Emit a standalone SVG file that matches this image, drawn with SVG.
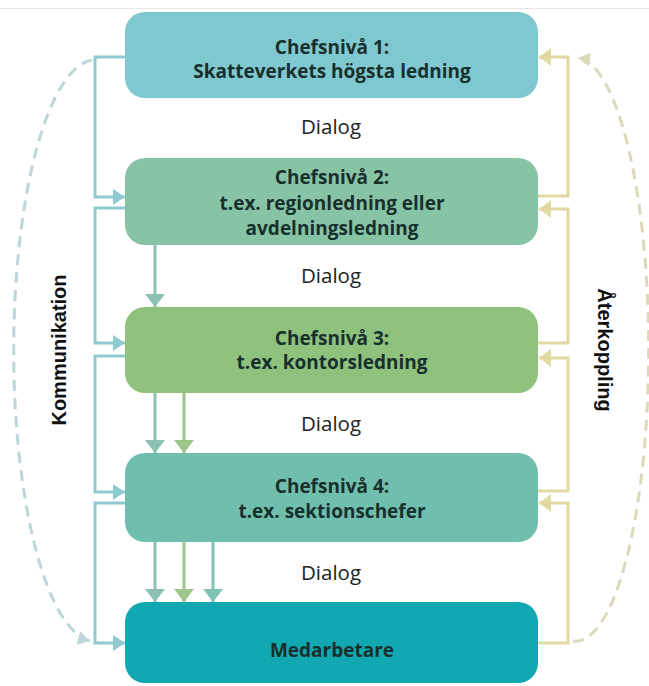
<svg xmlns="http://www.w3.org/2000/svg" width="649" height="686" viewBox="0 0 649 686">
  <style>
    .box-text { font-family: "Open Sans", "Liberation Sans", sans-serif; font-weight: bold; font-size: 19px; fill: #18302d; text-anchor: middle; }
    .dialog { font-family: "Open Sans", "Liberation Sans", sans-serif; font-size: 20.5px; fill: #222; text-anchor: middle; }
    .side { font-family: "Liberation Sans", Arial, sans-serif; font-weight: bold; font-size: 20px; fill: #111; text-anchor: middle; }
    .blue { fill: none; stroke: #8fcad3; stroke-width: 3; }
    .yellow { fill: none; stroke: #e2d9a2; stroke-width: 3; }
    .dashL { fill: none; stroke: #bcd6d9; stroke-width: 3; stroke-dasharray: 11 7; }
    .dashR { fill: none; stroke: #dcd9bb; stroke-width: 3; stroke-dasharray: 11 7; }
    .down { fill: none; stroke-width: 3; }
  </style>
  <defs>
    <marker id="aBlue" viewBox="0 0 12 16" refX="12" refY="8" markerWidth="12" markerHeight="16" markerUnits="userSpaceOnUse" orient="auto">
      <path d="M0,0 L12,8 L0,16 z" fill="#8fcad3"/>
    </marker>
    <marker id="aYellow" viewBox="0 0 12 18" refX="12" refY="9" markerWidth="12" markerHeight="18" markerUnits="userSpaceOnUse" orient="auto">
      <path d="M0,0 L12,9 L0,18 z" fill="#e2d9a2"/>
    </marker>
    <marker id="aD1" viewBox="0 0 13 20" refX="13" refY="10" markerWidth="13" markerHeight="20" markerUnits="userSpaceOnUse" orient="auto">
      <path d="M0,0 L13,10 L0,20 z" fill="#8cc0b3"/>
    </marker>
    <marker id="aD2" viewBox="0 0 13 20" refX="13" refY="10" markerWidth="13" markerHeight="20" markerUnits="userSpaceOnUse" orient="auto">
      <path d="M0,0 L13,10 L0,20 z" fill="#9cc58a"/>
    </marker>
    <marker id="aD3" viewBox="0 0 13 20" refX="13" refY="10" markerWidth="13" markerHeight="20" markerUnits="userSpaceOnUse" orient="auto">
      <path d="M0,0 L13,10 L0,20 z" fill="#80c2b6"/>
    </marker>
    <marker id="aDashL" viewBox="0 0 12 14" refX="12" refY="7" markerWidth="12" markerHeight="14" markerUnits="userSpaceOnUse" orient="auto">
      <path d="M0,0 L12,7 L0,14 z" fill="#bcd6d9"/>
    </marker>
    <marker id="aDashR" viewBox="0 0 12 14" refX="12" refY="7" markerWidth="12" markerHeight="14" markerUnits="userSpaceOnUse" orient="auto">
      <path d="M0,0 L12,7 L0,14 z" fill="#dcd9bb"/>
    </marker>
  </defs>

  <rect x="0" y="0" width="649" height="686" fill="#ffffff"/>
  <line x1="0" y1="8.5" x2="649" y2="8.5" stroke="#e6e6e6" stroke-width="1"/>

  <g id="connectors">
    <path class="blue" d="M125,57 H95 V197 H125" marker-end="url(#aBlue)"/>
    <path class="blue" d="M125,208 H95 V343 H125" marker-end="url(#aBlue)"/>
    <path class="blue" d="M125,356 H95 V492 H125" marker-end="url(#aBlue)"/>
    <path class="blue" d="M125,503 H95 V643 H125" marker-end="url(#aBlue)"/>
    <path class="yellow" d="M538,196 H568 V57 H539" marker-end="url(#aYellow)"/>
    <path class="yellow" d="M538,343 H568 V209 H539" marker-end="url(#aYellow)"/>
    <path class="yellow" d="M538,491 H568 V358 H539" marker-end="url(#aYellow)"/>
    <path class="yellow" d="M538,643 H568 V503 H539" marker-end="url(#aYellow)"/>
    <path class="dashL" d="M92,60 A82,291 0 0 0 90,641" marker-end="url(#aDashL)"/>
    <path class="dashR" d="M573,641 A73,291 0 0 0 578,58" marker-end="url(#aDashR)"/>
    <path class="down" d="M155,245 V307" stroke="#8cc0b3" marker-end="url(#aD1)"/>
    <path class="down" d="M155,393 V453" stroke="#8cc0b3" marker-end="url(#aD1)"/>
    <path class="down" d="M184,393 V453" stroke="#9cc58a" marker-end="url(#aD2)"/>
    <path class="down" d="M155,542 V602" stroke="#8cc0b3" marker-end="url(#aD1)"/>
    <path class="down" d="M184,542 V602" stroke="#9cc58a" marker-end="url(#aD2)"/>
    <path class="down" d="M213,542 V602" stroke="#80c2b6" marker-end="url(#aD3)"/>
  </g>

  <g id="level1">
    <rect x="125" y="12" width="413" height="86" rx="20" fill="#7fc8cf"/>
    <text class="box-text" x="332" y="54">Chefsnivå 1:</text>
    <text class="box-text" x="332" y="78">Skatteverkets högsta ledning</text>
  </g>
  <g id="level2">
    <rect x="125" y="158" width="413" height="87" rx="20" fill="#87c4a6"/>
    <text class="box-text" x="332" y="184">Chefsnivå 2:</text>
    <text class="box-text" x="332" y="210">t.ex. regionledning eller</text>
    <text class="box-text" x="332" y="235">avdelningsledning</text>
  </g>
  <g id="level3">
    <rect x="125" y="307" width="413" height="86" rx="20" fill="#8ec27d"/>
    <text class="box-text" x="332" y="345">Chefsnivå 3:</text>
    <text class="box-text" x="332" y="369">t.ex. kontorsledning</text>
  </g>
  <g id="level4">
    <rect x="125" y="453" width="413" height="89" rx="20" fill="#70bfae"/>
    <text class="box-text" x="332" y="493">Chefsnivå 4:</text>
    <text class="box-text" x="332" y="518">t.ex. sektionschefer</text>
  </g>
  <g id="medarbetare">
    <rect x="125" y="602" width="413" height="81" rx="20" fill="#11a8b1"/>
    <text class="box-text" x="332" y="657">Medarbetare</text>
  </g>

  <g id="dialog-labels">
    <text class="dialog" x="331" y="134">Dialog</text>
    <text class="dialog" x="331" y="283">Dialog</text>
    <text class="dialog" x="331" y="431">Dialog</text>
    <text class="dialog" x="331" y="580">Dialog</text>
  </g>

  <g id="side-labels">
    <text class="side" transform="translate(66,350) rotate(-90)">Kommunikation</text>
    <text class="side" transform="translate(598,350) rotate(90)">Återkoppling</text>
  </g>
</svg>
